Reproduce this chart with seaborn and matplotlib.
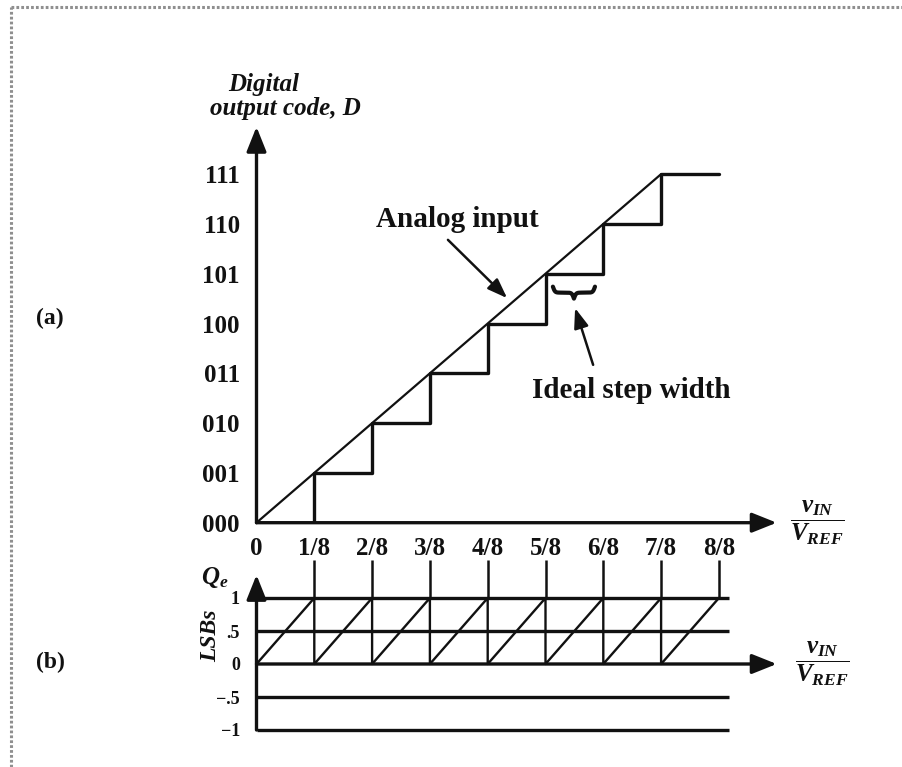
import numpy as np
import matplotlib
matplotlib.use("Agg")
import matplotlib.pyplot as plt
from matplotlib.lines import Line2D
import seaborn as sns

# ---- input axis: fraction of the reference voltage ----
x_ticks = [0, 1/8, 2/8, 3/8, 4/8, 5/8, 6/8, 7/8, 8/8]
x_tick_labels = ["0", "1/8", "2/8", "3/8", "4/8", "5/8", "6/8", "7/8", "8/8"]

# ---- 3-bit output codes ----
codes = [0, 1, 2, 3, 4, 5, 6, 7]
code_labels = ["000", "001", "010", "011", "100", "101", "110", "111"]

# quantized output, each code held until the next threshold
stair_x = [0, 1/8, 2/8, 3/8, 4/8, 5/8, 6/8, 7/8, 8/8]
stair_d = [0, 1, 2, 3, 4, 5, 6, 7, 7]

# ideal (unquantized) analog input
analog_x = [0, 7/8]
analog_d = [0, 7]

# quantization error in LSBs (sawtooth)
qe_x = [0, 1/8, 1/8, 2/8, 2/8, 3/8, 3/8, 4/8, 4/8,
        5/8, 5/8, 6/8, 6/8, 7/8, 7/8, 8/8]
qe_lsb = [0, 1, 0, 1, 0, 1, 0, 1, 0, 1, 0, 1, 0, 1, 0, 1]

# reference levels and labels of the error panel
qe_levels = [1, 0.5, -0.5, -1]
qe_ticks = [-1, -0.5, 0, 0.5, 1]
qe_tick_labels = ["\u22121", "\u2212.5", "0", ".5", "1"]

# ---- style ----
sns.set_theme(style="white")
plt.rcParams["font.family"] = ["Liberation Serif", "DejaVu Serif"]
plt.rcParams["font.weight"] = "bold"
plt.rcParams["mathtext.fontset"] = "custom"
plt.rcParams["mathtext.it"] = "Liberation Serif:italic:bold"
plt.rcParams["mathtext.rm"] = "Liberation Serif:bold"
plt.rcParams["mathtext.bf"] = "Liberation Serif:bold"

ink = "#111111"
W, H = 902, 767
fig = plt.figure(figsize=(W / 100, H / 100), dpi=100)
fig.patch.set_facecolor("white")

X_MAX = 1.125
ax_a = fig.add_axes([256.5 / W, (H - 522.7) / H, 520.2 / W, 395.9 / H])
ax_b = fig.add_axes([256.5 / W, (H - 730) / H, 520.2 / W, 155.1 / H])
for ax in (ax_a, ax_b):
    ax.set_facecolor("none")
    for s in ax.spines.values():
        s.set_visible(False)
    ax.grid(False)
ax_a.set_xlim(0, X_MAX)
ax_a.set_ylim(0, 7.95)
ax_b.set_xlim(0, X_MAX)
ax_b.set_ylim(-1, 1.35)

axis_arrow = dict(arrowstyle="-|>,head_length=0.75,head_width=0.3",
                  lw=2.4, color=ink, shrinkA=0, shrinkB=0, mutation_scale=20)
# axes with arrowheads
ax_a.annotate("", xy=(1, 0), xytext=(0, 0), xycoords="axes fraction",
              arrowprops=axis_arrow)
ax_a.annotate("", xy=(0, 1), xytext=(0, 0), xycoords="axes fraction",
              arrowprops=axis_arrow)
ax_b.annotate("", xy=(1, 1 / 2.35), xytext=(0, 1 / 2.35), xycoords="axes fraction",
              arrowprops=axis_arrow)
ax_b.annotate("", xy=(0, 1), xytext=(0, 0), xycoords="axes fraction",
              arrowprops=axis_arrow)

# ---- (a) transfer characteristic ----
sns.lineplot(x=stair_x, y=stair_d, ax=ax_a, color=ink, lw=2.4,
             drawstyle="steps-post", estimator=None, sort=False)
sns.lineplot(x=analog_x, y=analog_d, ax=ax_a, color=ink, lw=1.6,
             estimator=None, sort=False)

ax_a.set_xticks(x_ticks, x_tick_labels)
ax_a.set_yticks(codes, code_labels)
ax_a.tick_params(axis="x", direction="inout", length=12, width=1.6,
                 color=ink, pad=4, labelsize=18, labelcolor=ink)
ax_a.tick_params(axis="y", direction="inout", length=16, width=1.6,
                 color=ink, pad=4, labelsize=18, labelcolor=ink)
ax_a.xaxis.get_major_ticks()[0].tick1line.set_visible(False)
ax_a.yaxis.get_major_ticks()[0].tick1line.set_visible(False)

ax_a.text(0.434, 6.08, "Analog input", ha="center", va="center",
          fontsize=21, color=ink)
ax_a.annotate("", xy=(0.542, 4.51), xytext=(0.414, 5.68),
              arrowprops=dict(arrowstyle="-|>,head_length=0.6,head_width=0.22",
                              lw=1.8, color=ink, shrinkA=0, shrinkB=0,
                              mutation_scale=20))
ax_a.text(0.81, 2.66, "Ideal step width", ha="center", va="center",
          fontsize=21, color=ink)
ax_a.annotate("", xy=(0.689, 4.31), xytext=(0.728, 3.17),
              arrowprops=dict(arrowstyle="-|>,head_length=0.6,head_width=0.22",
                              lw=1.8, color=ink, shrinkA=0, shrinkB=0,
                              mutation_scale=20))

# curly brace under one step (ends curl up, cusp points down)
b0, b1, b_top, b_h = 0.641, 0.732, 4.74, 0.24
n = 201
bx = np.linspace(b0, b1, n)
half = bx[: n // 2 + 1]
beta = 450.0
sig = (1 / (1 + np.exp(-beta * (half - half[0])))
       + 1 / (1 + np.exp(-beta * (half - half[-1]))))
by_half = b_top - b_h * (sig - 0.5)
by = np.concatenate([by_half, by_half[-2::-1]])
ax_a.plot(bx, by, color=ink, lw=3.0, solid_capstyle="round")

# ---- (b) quantization error ----
ax_b.hlines(qe_levels, 0, 1.022, color=ink, lw=2.4, clip_on=False)
guide_top = (664 - 560) / 66.0
ax_b.vlines(x_ticks[1:], 1, guide_top, color=ink, lw=1.8, clip_on=False)
sns.lineplot(x=qe_x, y=qe_lsb, ax=ax_b, color=ink, lw=1.7,
             estimator=None, sort=False)
ax_b.set_xticks([])
ax_b.set_yticks(qe_ticks, qe_tick_labels)
ax_b.tick_params(axis="y", length=0, pad=12, labelsize=13, labelcolor=ink)

# axis titles
frac = r"$\dfrac{v_{IN}}{V_{REF}}$"
ax_a.text(1.212, 0, frac, ha="center", va="center", fontsize=18, color=ink)
ax_b.text(1.223, 0, frac, ha="center", va="center", fontsize=18, color=ink)
fig.text(264 / W, 1 - 85 / H, "Digital", ha="center", va="center",
         fontsize=18, style="italic", color=ink)
fig.text(285 / W, 1 - 108 / H, "output code, D", ha="center", va="center",
         fontsize=18, style="italic", color=ink)
fig.text(215 / W, 1 - 578 / H, r"$Q_e$", ha="center", va="center",
         fontsize=18, color=ink)
fig.text(211 / W, 1 - 636 / H, "LSBs", ha="center", va="center",
         fontsize=17, style="italic", rotation=90, color=ink)
fig.text(50 / W, 1 - 318 / H, "(a)", ha="center", va="center",
         fontsize=17, color=ink)
fig.text(50 / W, 1 - 662 / H, "(b)", ha="center", va="center",
         fontsize=17, color=ink)

# dotted frame on the top and left edges
frame = dict(transform=fig.transFigure, color="#8f8f8f", lw=2.2,
             ls=(0, (0.9, 0.7)))
fig.add_artist(Line2D([11 / W, 1], [1 - 7 / H, 1 - 7 / H], **frame))
fig.add_artist(Line2D([11 / W, 11 / W], [0, 1 - 7 / H], **frame))

fig.savefig("out.png", dpi=100, facecolor="white")
